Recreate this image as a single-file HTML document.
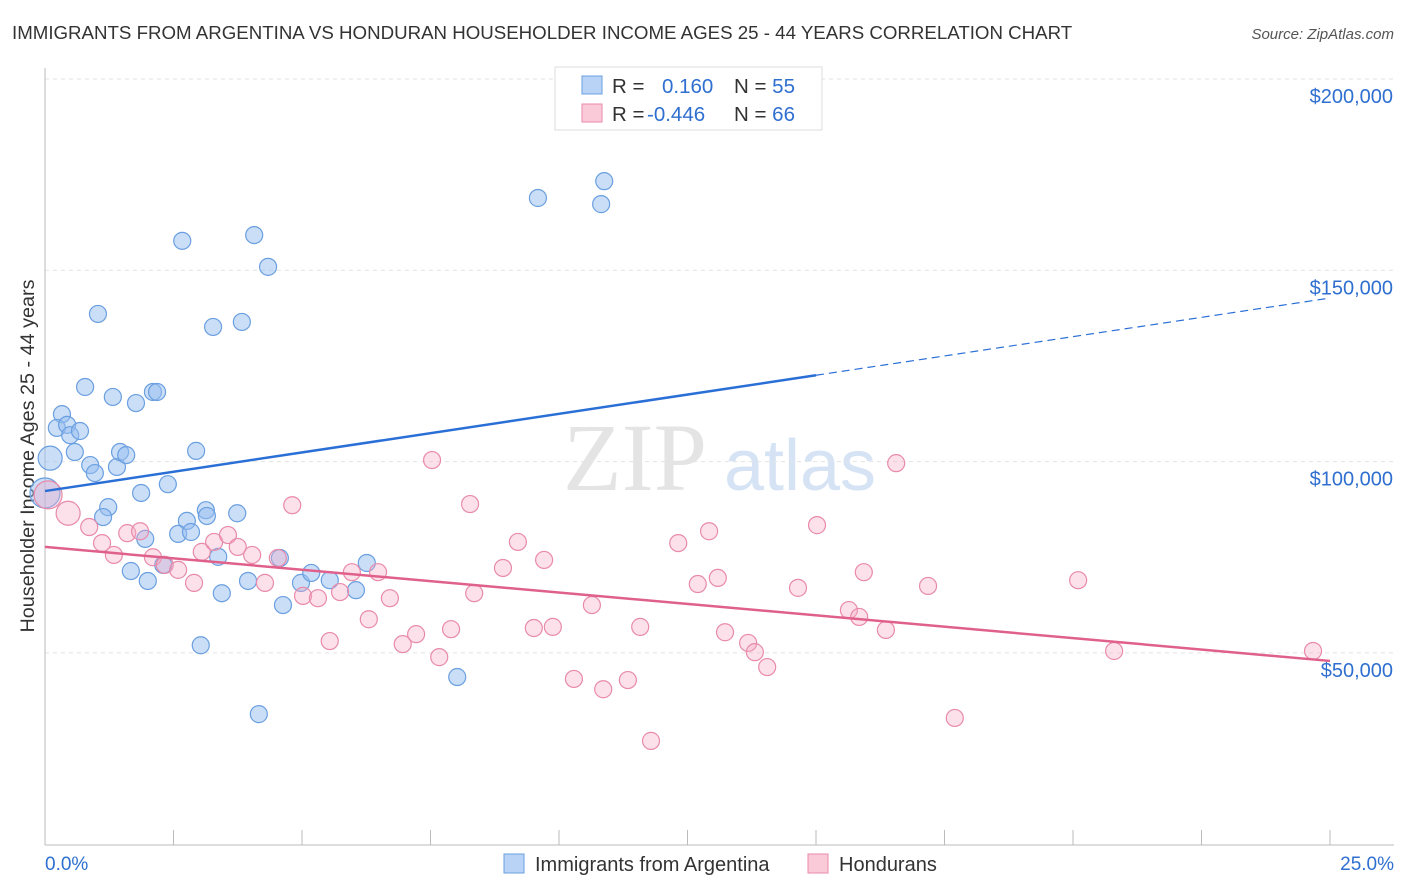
<!DOCTYPE html>
<html><head><meta charset="utf-8"><style>
body{margin:0;background:#fff;font-family:"Liberation Sans",sans-serif}
svg{display:block}
</style></head><body>
<svg id="c" width="1406" height="892">
<text x="12" y="39" font-size="18.7" fill="#333">IMMIGRANTS FROM ARGENTINA VS HONDURAN HOUSEHOLDER INCOME AGES 25 - 44 YEARS CORRELATION CHART</text>
<text x="1394" y="39" font-size="15" fill="#555" font-style="italic" text-anchor="end">Source: ZipAtlas.com</text>
<text x="635" y="490" font-size="96" fill="#e4e4e4" font-family="Liberation Serif" text-anchor="middle">ZIP</text>
<text x="800" y="490" font-size="72" fill="#d5e3f5" text-anchor="middle">atlas</text>
<text transform="translate(34,456) rotate(-90)" font-size="19.8" fill="#333" text-anchor="middle">Householder Income Ages 25 - 44 years</text>
<g id="grid"></g><g id="pts"></g><g id="lines"></g>
<g>
<rect x="555" y="67" width="267" height="63" fill="#fff" stroke="#ddd"/>
<rect x="582" y="76" width="20" height="18" fill="#b8d3f5" stroke="#6a9fe0"/>
<rect x="582" y="104" width="20" height="18" fill="#fbcad9" stroke="#e88aaa"/>
<text x="612" y="93" font-size="20.5" fill="#333">R = <tspan fill="#2f6fd0" x="662">0.160</tspan><tspan fill="#333" x="734">N = </tspan><tspan fill="#2f6fd0">55</tspan></text>
<text x="612" y="121" font-size="20.5" fill="#333">R = <tspan fill="#2f6fd0" x="647">-0.446</tspan><tspan fill="#333" x="734">N = </tspan><tspan fill="#2f6fd0">66</tspan></text>
</g>
<g>
<rect x="504" y="854" width="20" height="19" fill="#b8d3f5" stroke="#6a9fe0"/>
<text x="535" y="871" font-size="20" fill="#333">Immigrants from Argentina</text>
<rect x="808" y="854" width="20" height="19" fill="#fbcad9" stroke="#e88aaa"/>
<text x="839" y="871" font-size="20" fill="#333">Hondurans</text>
</g>
</svg>
<script>
const blueX=[0.10,0,0.33,0.23,0.43,0.49,0.68,0.58,0.78,0.88,0.97,1.03,1.23,1.13,1.32,1.40,1.46,1.58,1.77,1.87,2.10,2.18,2.39,2.67,2.76,2.59,2.84,2.94,3.13,3.15,3.27,3.37,3.44,3.74,3.83,3.95,4.07,4.34,4.57,4.63,4.98,5.18,5.54,6.05,6.26,8.02,9.59,10.88,10.82,4.16,3.03,1.67,2.00,1.95,2.30];
const blueY=[100900,91800,112400,108800,109600,106900,108000,102500,119500,99100,97000,138600,88100,85500,116900,98600,102500,101700,115300,91800,118200,118200,94100,157700,84500,81100,81600,102800,87300,85800,135200,75100,65600,86500,136500,68800,159200,150900,74800,62500,68300,70900,69000,66400,73500,43700,168900,173300,167300,34000,52000,71400,68800,79800,73000];
const pinkX=[0.06,0.45,0.86,1.11,1.34,1.60,1.85,2.10,2.33,2.59,2.90,3.05,3.29,3.56,3.75,4.03,4.28,4.53,4.81,5.02,5.31,5.54,5.74,5.97,6.30,6.48,6.71,6.96,7.22,7.53,7.67,7.90,8.27,8.35,8.91,9.20,9.51,9.71,9.88,10.29,10.64,10.86,11.34,11.58,11.79,12.32,12.70,12.92,13.09,13.23,13.68,13.81,14.05,14.65,15.02,15.64,15.84,15.93,16.36,16.56,17.18,17.70,20.10,20.80,24.67];
const pinkY=[91300,86500,82900,78700,75600,81300,81800,75000,73000,71700,68300,76400,79000,80800,77700,75600,68300,74800,88600,64900,64300,53100,65900,71100,58800,71100,64300,52300,54900,100400,48900,56200,88900,65600,72200,79000,56500,74300,56800,43200,62500,40500,42900,56800,27000,78700,68000,81800,69600,55400,52600,50200,46300,67000,83400,61200,59400,71100,56000,99600,67500,33000,69000,50500,50500];
const blueTrend=[92300,142750]; // value at 0% and 25%
const pinkTrend=[77700,47900];
const yTicks=[50000,100000,150000,200000];
const yTickLabels=["$50,000","$100,000","$150,000","$200,000"];
const NS="http://www.w3.org/2000/svg";
const sx=v=>45+v/25*1285, sy=v=>79+(200000-v)/50000*191.3;
function mk(tag,at,parent){const e=document.createElementNS(NS,tag);for(const k in at)e.setAttribute(k,at[k]);document.getElementById(parent).appendChild(e);return e;}
yTicks.forEach((t,i)=>{
 const g=mk('line',{x1:45,x2:1394,y1:sy(t),y2:sy(t),stroke:'#e3e3e3','stroke-dasharray':'4,4'},'grid');
 
 
 const l=mk('text',{x:1393,y:sy(t)+24,'font-size':20,fill:'#2f6fd0','text-anchor':'end'},'grid');
 l.textContent=yTickLabels[i];
 
 
});
const ax=mk('line',{x1:45,x2:45,y1:68,y2:845,stroke:'#bbb'},'grid');


const xa=mk('line',{x1:45,x2:1394,y1:845,y2:845,stroke:'#bbb'},'grid');


for(let i=0;i<=10;i++){const tk=mk('line',{x1:sx(i*2.5),x2:sx(i*2.5),y1:830,y2:845,stroke:'#bbb'},'grid');
 
 }
const xl0=mk('text',{x:45,y:870,'font-size':19,fill:'#2f6fd0'},'grid');xl0.textContent='0.0%';


const xl1=mk('text',{x:1394,y:870,'font-size':19,fill:'#2f6fd0','text-anchor':'end'},'grid');xl1.textContent='25.0%';


blueX.forEach((x,i)=>{const r=i<2?(i==1?15:12):8.5;
 const c=mk('circle',{cx:sx(x),cy:sy(blueY[i]),r:r,fill:'rgba(150,190,240,0.5)',stroke:'#6a9fe0','stroke-width':1.2},'pts');
 
 });
pinkX.forEach((x,i)=>{const r=i==0?14:(i==1?12:8.5);
 const c=mk('circle',{cx:sx(x),cy:sy(pinkY[i]),r:r,fill:'rgba(245,170,196,0.35)',stroke:'#e88aaa','stroke-width':1.2},'pts');
 
 });
const bv=x=>blueTrend[0]+(blueTrend[1]-blueTrend[0])*x/25;
const b1=mk('line',{x1:sx(0),y1:sy(bv(0)),x2:sx(15),y2:sy(bv(15)),stroke:'#2a6fd6','stroke-width':2.5},'lines');


const b2=mk('line',{x1:sx(15),y1:sy(bv(15)),x2:sx(25),y2:sy(bv(25)),stroke:'#2a6fd6','stroke-width':1.2,'stroke-dasharray':'8,5'},'lines');


const p1=mk('line',{x1:sx(0),y1:sy(pinkTrend[0]),x2:sx(25),y2:sy(pinkTrend[1]),stroke:'#e0608c','stroke-width':2.5},'lines');


</script>
</body></html>
